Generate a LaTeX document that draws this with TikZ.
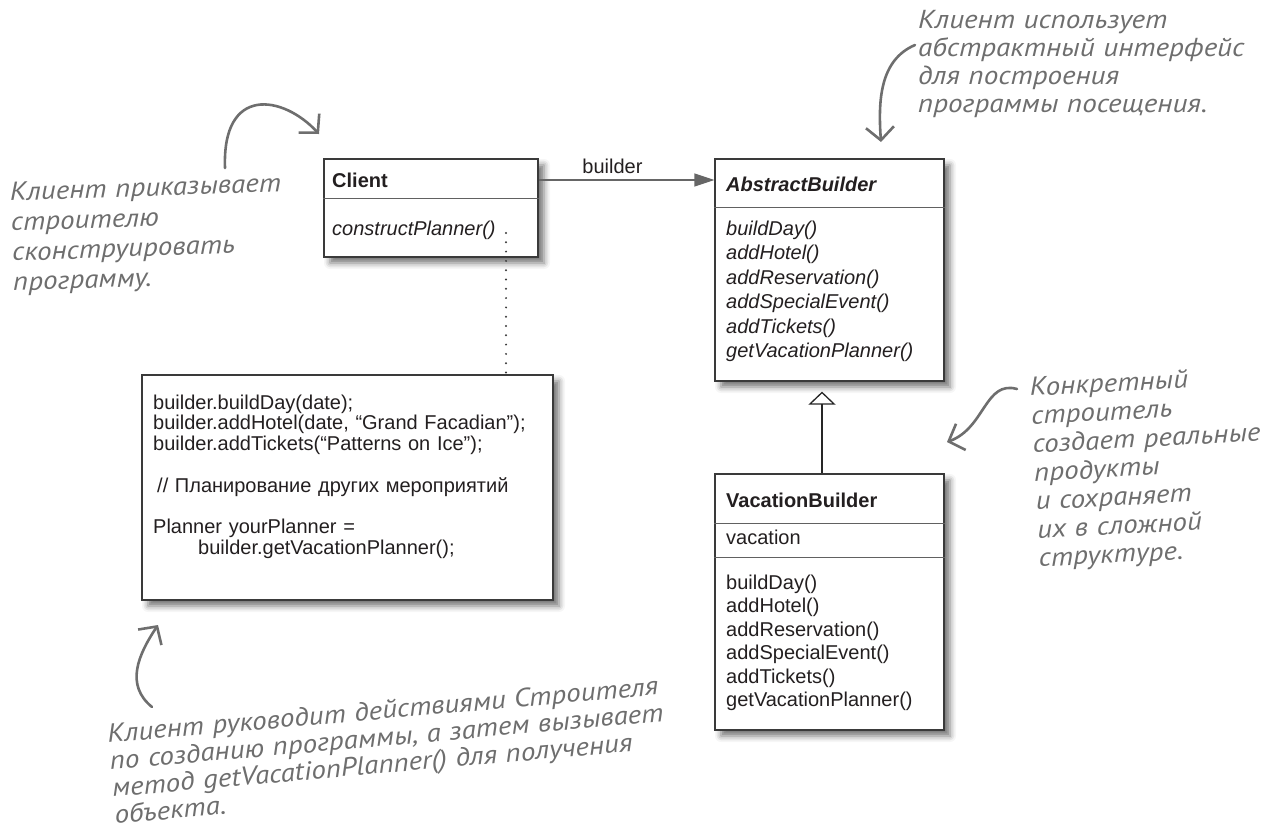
\documentclass[tikz,border=0pt]{standalone}
\usepackage{fontspec}
\setmainfont{Liberation Sans}
\newfontfamily\handfont{PT Sans}[FakeStretch=1.12]
\usetikzlibrary{arrows.meta,shadows.blur}
\definecolor{inkc}{HTML}{231F20}
\definecolor{linec}{HTML}{3A3A3A}
\definecolor{arrowc}{HTML}{666666}
\definecolor{notec}{HTML}{6E6E6E}

\begin{document}
\begin{tikzpicture}[x=1pt,y=-1pt,
  box/.style={draw=linec,line width=1.2pt,fill=white,inner sep=0pt,
    blur shadow={shadow xshift=6pt,shadow yshift=-6pt,shadow blur radius=6pt,shadow opacity=55}},
  sep/.style={draw=linec!80,line width=0.9pt},
  head/.style={anchor=west,inner sep=0pt,text=inkc,font=\fontsize{20}{24}\selectfont\bfseries},
  ops/.style={anchor=base west,inner sep=0pt,text width=200pt,align=left,text=inkc},
  note/.style={anchor=base west,inner sep=0pt,text width=600pt,align=left,text=notec},
  assoc/.style={draw=arrowc,line width=1.3pt,-{Triangle[length=20pt,width=13pt]}},
  gen/.style={draw=black!85,line width=1.3pt,shorten >=10pt,-{Triangle[open,length=13pt,width=27pt,fill=white]}},
  dots/.style={draw=linec,line width=2.2pt,line cap=round,dash pattern=on 0pt off 9.3pt},
  hand/.style={draw=notec,line width=2.6pt,line cap=round,-{Straight Barb[length=13pt,width=28pt]}}]
\useasboundingbox (0,0) rectangle (1274,827);

\node[box,minimum width=214,minimum height=98] (client) at (431,208) {};
\node[box,minimum width=229,minimum height=222] (abstract) at (829.5,270) {};
\node[box,minimum width=229,minimum height=256] (vacation) at (829.5,602) {};
\node[box,minimum width=411,minimum height=225] (code) at (347.5,487.5) {};

\draw[sep] (client.west |- 0,198) -- (client.east |- 0,198);
\draw[sep] (abstract.west |- 0,207) -- (abstract.east |- 0,207);
\draw[sep] (vacation.west |- 0,523) -- (vacation.east |- 0,523);
\draw[sep] (vacation.west |- 0,557) -- (vacation.east |- 0,557);

\node[head] (clientT) at (332,180) {Client};
\node[head,font=\fontsize{20}{24}\selectfont\bfseries\itshape] (abstractT) at (726,184) {AbstractBuilder};
\node[head] (vacationT) at (726,500) {VacationBuilder};

\node[ops,font=\fontsize{20}{24}\selectfont\itshape] (clientOp) at (332,235) {constructPlanner()};
\node[ops,font=\fontsize{20}{24.5}\selectfont\itshape] (abstractOp) at (726,235)
  {buildDay()\\addHotel()\\addReservation()\\addSpecialEvent()\\addTickets()\\getVacationPlanner()};
\node[ops,font=\fontsize{20}{24}\selectfont] (vacationAt) at (726,544) {vacation};
\node[ops,font=\fontsize{20}{23.5}\selectfont] (vacationOp) at (726,589)
  {buildDay()\\addHotel()\\addReservation()\\addSpecialEvent()\\addTickets()\\getVacationPlanner()};
\node[ops,text width=400pt,font=\fontsize{20}{20.8}\selectfont] (codeTxt) at (153,409)
  {builder.buildDay(date);\\
   builder.addHotel(date, “Grand Facadian”);\\
   builder.addTickets(“Patterns on Ice”);\\
   \mbox{}\\
   \hspace*{4pt}// Планирование других мероприятий\\
   \mbox{}\\
   Planner yourPlanner =\\
   \hspace*{45pt}builder.getVacationPlanner();};

\draw[assoc] (clientT.east -| client.east) -- node[pos=0.42,above=6pt,inner sep=0pt,text=inkc,
  font=\fontsize{20}{24}\selectfont] {builder} (clientT.east -| abstract.west);
\draw[gen] ([xshift=-7.5pt]vacation.north) -- ([xshift=-7.5pt]abstract.south);
\coordinate (opEnd) at (506,233);
\draw[dots] (opEnd) -- (opEnd |- code.north);

\node[note,rotate=2,font=\handfont\itshape\fontsize{26}{30}\selectfont] (note1) at (10,201)
  {Клиент приказывает\\строителю\\сконструировать\\программу.};
\node[note,font=\handfont\itshape\fontsize{26}{28}\selectfont] (note2) at (918,28)
  {Клиент использует\\абстрактный интерфейс\\для построения\\программы посещения.};
\node[note,rotate=3,font=\handfont\itshape\fontsize{26}{28.5}\selectfont] (note3) at (1030,396)
  {Конкретный\\строитель\\создает реальные\\продукты\\и сохраняет\\их в сложной\\структуре.};
\node[note,rotate=5,font=\handfont\itshape\fontsize{26}{27}\selectfont] (note4) at (108,743)
  {Клиент руководит действиями Строителя\\по созданию программы, а затем вызывает\\метод getVacationPlanner() для получения\\объекта.};

\coordinate (n1a) at (225,168);
\coordinate (n1b) at (319,134);
\draw[hand] (n1a) .. controls (222,85) and (283,95) .. (n1b);
\coordinate (n2a) at (915,45);
\coordinate (n2b) at (881,142);
\draw[hand] (n2a) .. controls (880,60) and (878,100) .. (n2b);
\coordinate (n3a) at (1017,389);
\coordinate (n3b) at (947,442);
\draw[hand] (n3a) .. controls (985,380) and (985,428) .. (n3b);
\coordinate (n4a) at (152,707);
\coordinate (n4b) at (158,625);
\draw[hand] (n4a) .. controls (125,685) and (138,655) .. (n4b);
\end{tikzpicture}
\end{document}
